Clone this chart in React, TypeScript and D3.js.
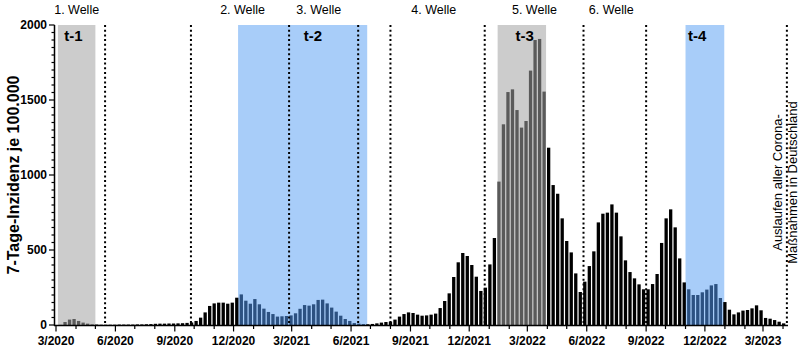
import React from "react";
import * as d3 from "d3";

// weekly 7-day incidence per 100,000, first bar is the week of 8 March 2020
const firstWeek = "2020-03-08";
const incidence = [
  1, 20, 36, 40, 27, 16, 9, 4, 3, 2, 2, 2, 2, 3, 3, 3, 3, 4, 4, 5, 6, 8, 9, 9, 10, 10, 11, 12, 14, 17,
  27, 49, 84, 127, 144, 149, 149, 142, 149, 182,
  204, 162, 142, 173, 138, 109, 87, 73, 56, 58, 60, 64, 78,
  108, 133, 129, 138, 167, 169, 144, 116, 89, 62, 40, 27, 13, 9, 6,
  5, 7, 11, 16, 20, 22, 36, 56, 73, 84, 80, 69, 62, 64, 69, 76, 113, 160, 211, 320, 418, 480, 460, 400, 322, 227, 249, 404, 580,
  956, 1338, 1553, 1571, 1433, 1316, 1360, 1696, 1900, 1907, 1556,
  1182, 933, 875, 711, 560, 484, 344, 220, 289, 393, 491, 684, 742, 749, 804, 749, 591, 431, 353, 311, 271, 238, 238, 273, 340, 547, 711, 771, 651, 444, 284,
  238, 200, 200, 218, 236, 264, 273, 180,
  153, 102, 71, 84, 96, 100, 111, 131, 98, 47, 42, 33, 22, 11,
];

const waveLabels = ["1. Welle", "2. Welle", "3. Welle", "4. Welle", "5. Welle", "6. Welle"];
const waveLabelDates = ["2020-04-02", "2020-12-15", "2021-04-12", "2021-10-07", "2022-03-12", "2022-07-09"];
const boundaryDates = [
  "2020-05-16", "2020-09-26", "2021-02-25", "2021-06-12", "2021-08-01",
  "2021-12-25", "2022-05-27", "2022-09-01", "2023-04-07",
];

const periodLabels = ["t-1", "t-2", "t-3", "t-4"];
const periodStarts = ["2020-03-04", "2020-12-08", "2022-01-14", "2022-11-01"];
const periodEnds = ["2020-05-01", "2021-06-26", "2022-03-30", "2022-12-31"];
const periodKinds = ["grey", "blue", "grey", "blue"];
const periodLabelDates = ["2020-03-28", "2021-04-03", "2022-02-25", "2022-11-19"];

const yTicks = [0, 500, 1000, 1500, 2000];
const noteLines = ["Auslaufen aller Corona-", "Maßnahmen in Deutschland"];

const shade = { grey: "#cccccc", blue: "#a8cdf9" };
const barShade = { grey: "#5a5a5a", blue: "#2c5181" };

const W = 800;
const H = 352;
const parse = (s: string) => new Date(s + "T00:00:00Z");
const font = "'Liberation Sans', Arial, sans-serif";

export default function App() {
  const x = d3
    .scaleUtc()
    .domain([parse("2020-03-01"), parse("2023-03-01")])
    .range([56, 763]);
  const y = d3.scaleLinear().domain([0, 2000]).range([325, 25]);

  const start = parse(firstWeek);
  const bars = incidence.map((v, i) => {
    const date = d3.utcDay.offset(start, 7 * i);
    let fill = "#000";
    periodStarts.forEach((s, k) => {
      if (date >= parse(s) && date < parse(periodEnds[k])) fill = barShade[periodKinds[k]];
    });
    return { date, v, fill };
  });

  const months = d3.utcMonth.range(parse("2020-03-01"), parse("2023-04-02"));
  const quarterLabels = months.filter((m) => m.getUTCMonth() % 3 === 2);
  const minorY = d3.range(0, 2001, 50);
  const bw = 3.3;

  return (
    <svg
      width={W}
      height={H}
      style={{ position: "fixed", left: 0, top: 0, background: "#fff" }}
      fontFamily={font}
    >
      {periodStarts.map((s, k) => (
        <rect
          key={"p" + k}
          x={x(parse(s))}
          y={y(2000)}
          width={x(parse(periodEnds[k])) - x(parse(s))}
          height={y(0) - y(2000)}
          fill={shade[periodKinds[k]]}
        />
      ))}

      {bars.map((b, i) => (
        <rect
          key={"b" + i}
          x={x(b.date) - bw / 2}
          y={y(b.v)}
          width={bw}
          height={y(0) - y(b.v)}
          fill={b.fill}
        />
      ))}

      {boundaryDates.map((d, i) => (
        <line
          key={"d" + i}
          x1={x(parse(d))}
          x2={x(parse(d))}
          y1={y(2000)}
          y2={y(0)}
          stroke="#000"
          strokeWidth={2}
          strokeDasharray="2 2.7"
        />
      ))}

      {/* y axis */}
      <line x1={54.5} x2={54.5} y1={y(2000)} y2={y(0) + 0.75} stroke="#000" strokeWidth={1.5} />
      {minorY.map((t) => (
        <line
          key={"my" + t}
          x1={yTicks.includes(t) ? 49 : 51.5}
          x2={54.5}
          y1={y(t)}
          y2={y(t)}
          stroke="#000"
          strokeWidth={1.2}
        />
      ))}
      {yTicks.map((t) => (
        <text
          key={"yt" + t}
          x={47}
          y={y(t)}
          dy="0.35em"
          textAnchor="end"
          fontSize={12}
          fontWeight="bold"
        >
          {t}
        </text>
      ))}
      <text
        transform={`translate(18.5,${y(1000)}) rotate(-90)`}
        textAnchor="middle"
        fontSize={16}
        fontWeight="bold"
      >
        7-Tage-Inzidenz je 100.000
      </text>

      {/* x axis */}
      <line x1={54} x2={788} y1={325.5} y2={325.5} stroke="#000" strokeWidth={1.5} />
      {months.map((m, i) => (
        <line
          key={"mx" + i}
          x1={x(m)}
          x2={x(m)}
          y1={325.5}
          y2={m.getUTCMonth() % 3 === 2 ? 331.5 : 329}
          stroke="#000"
          strokeWidth={1.2}
        />
      ))}
      {quarterLabels.map((m, i) => (
        <text key={"xl" + i} x={x(m)} y={345} textAnchor="middle" fontSize={12} fontWeight="bold">
          {`${m.getUTCMonth() + 1}/${m.getUTCFullYear()}`}
        </text>
      ))}

      {waveLabels.map((l, i) => (
        <text key={"w" + i} x={x(parse(waveLabelDates[i]))} y={13.5} textAnchor="middle" fontSize={12.5}>
          {l}
        </text>
      ))}
      {periodLabels.map((l, i) => (
        <text
          key={"t" + i}
          x={x(parse(periodLabelDates[i]))}
          y={40.5}
          textAnchor="middle"
          fontSize={15}
          fontWeight="bold"
        >
          {l}
        </text>
      ))}

      {noteLines.map((l, i) => (
        <text
          key={"n" + i}
          transform={`translate(${782 + i * 15},${y(950)}) rotate(-90)`}
          textAnchor="middle"
          fontSize={13}
        >
          {l}
        </text>
      ))}
    </svg>
  );
}
